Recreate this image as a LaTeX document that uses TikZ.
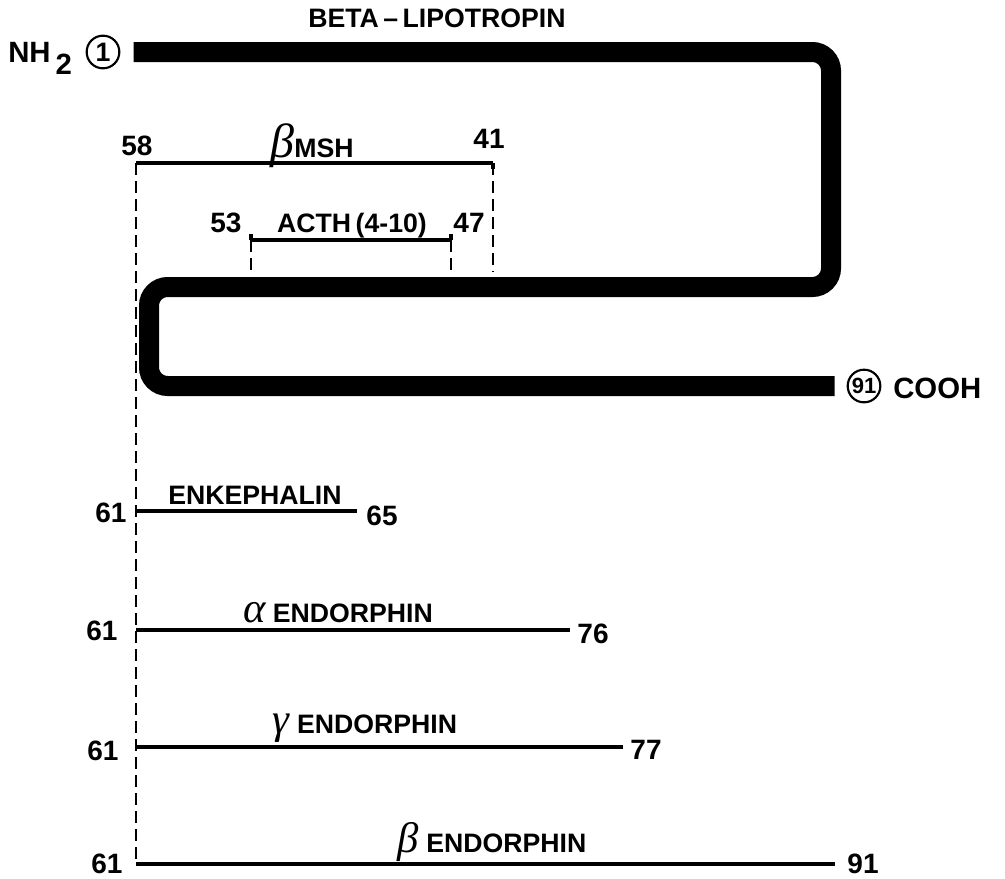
\documentclass[tikz,border=0pt]{standalone}
\usepackage{fontspec}
\setmainfont{Liberation Sans}
\newfontfamily\grk{Liberation Serif}
\begin{document}
\begin{tikzpicture}[x=0.75pt,y=0.75pt,yscale=-1,xscale=1,
  lbl/.style={inner sep=0pt,anchor=base,font=\fontsize{20}{20}\selectfont\bfseries},
  num/.style={inner sep=0pt,anchor=base,font=\fontsize{21}{21}\selectfont\bfseries},
  res/.style={draw,circle,line width=1.6pt,minimum size=24.5pt,inner sep=0pt,font=\fontsize{20}{20}\selectfont\bfseries},
  chain/.style={line width=15pt,rounded corners=14pt},
  seg/.style={line width=2.3pt},
  guide/.style={line width=2.2pt,dash pattern=on 9pt off 4.5pt}]
%uncomment if require: \path (0,878); %set diagram left start at 0, and has height of 878
\useasboundingbox (0,0) rectangle (1005,878);

%Shape: Circle [id:res1]
\node[res] (n1) at (103,52) {1};
%Shape: Circle [id:res91]
\node[res,font=\fontsize{16.5}{17}\selectfont\bfseries] (n91) at (864,386) {91};
\node[lbl,anchor=base west,font=\fontsize{22}{22}\selectfont\bfseries] (nh2) at (8,62) {NH\,\raisebox{-9pt}{2}};
\node[lbl,anchor=base west,font=\fontsize{22}{22}\selectfont\bfseries] (cooh) at (893,398) {COOH};
\node[lbl] (lipo) at (437,27) {BETA\,–\,LIPOTROPIN};

%Straight Lines [id:guides]
\coordinate (g58) at (136,163);
\coordinate (g58b) at (136,864);
\coordinate (g41) at (493,163);
\coordinate (g41b) at (493,272);
\coordinate (g53) at (251,240);
\coordinate (g53b) at (251,272);
\coordinate (g47) at (451,240);
\coordinate (g47b) at (451,272);
\draw[guide] (g58) -- (g58b);
\draw[guide] (g41) -- (g41b);
\draw[guide] (g53) -- (g53b);
\draw[guide] (g47) -- (g47b);

%Shape: Chain [id:lipotropin]
\draw[chain,shorten <=10pt,shorten >=9pt] (n1.east) -- (831,52) -- (831,287) -- (149,287) -- (149,386) -- (n91.west);

%Straight Lines [id:msh]
\draw[seg] (g58) -- (g41);
\draw[seg] (g41) -- ++(0,6);
\node[num] (n58) at (137,155) {58};
\node[num] (n41) at (489,148) {41};
\node[lbl] (msh) at (312,157) {{\grk\itshape\mdseries\fontsize{36}{36}\selectfont β}MSH};

%Straight Lines [id:acth]
\draw[seg] (g53) -- (g47);
\draw[seg] (g53) -- ++(0,-6) (g47) -- ++(0,-6);
\node[num] (n53) at (226,232) {53};
\node[num] (n47) at (469,232) {47};
\node[lbl] (acth) at (352,232) {ACTH\,(4-10)};

%Straight Lines [id:enkephalin]
\coordinate (s65) at (136,511);
\coordinate (e65) at (357,511);
\draw[seg] (s65) -- (e65);
\node[num] (a61) at (111,522) {61};
\node[num] (r65) at (382,525) {65};
\node[lbl] (enk) at (255,504) {ENKEPHALIN};

%Straight Lines [id:alpha]
\coordinate (s76) at (136,630);
\coordinate (e76) at (570,630);
\draw[seg] (s76) -- (e76);
\node[num] (b61) at (102,640) {61};
\node[num] (r76) at (593,643) {76};
\node[lbl] (aend) at (338,622) {{\grk\itshape\mdseries\fontsize{32}{32}\selectfont α} ENDORPHIN};

%Straight Lines [id:gamma]
\coordinate (s77) at (136,747);
\coordinate (e77) at (623,747);
\draw[seg] (s77) -- (e77);
\node[num] (c61) at (103,760) {61};
\node[num] (r77) at (646,759) {77};
\node[lbl] (gend) at (365,733) {{\grk\itshape\mdseries\fontsize{32}{32}\selectfont γ} ENDORPHIN};

%Straight Lines [id:beta]
\coordinate (s91) at (136,864);
\coordinate (e91) at (835,864);
\draw[seg] (s91) -- (e91);
\node[num] (d61) at (107,873) {61};
\node[num] (r91) at (863,873) {91};
\node[lbl] (bend) at (492,852) {{\grk\itshape\mdseries\fontsize{32}{32}\selectfont β} ENDORPHIN};

\end{tikzpicture}
\end{document}
